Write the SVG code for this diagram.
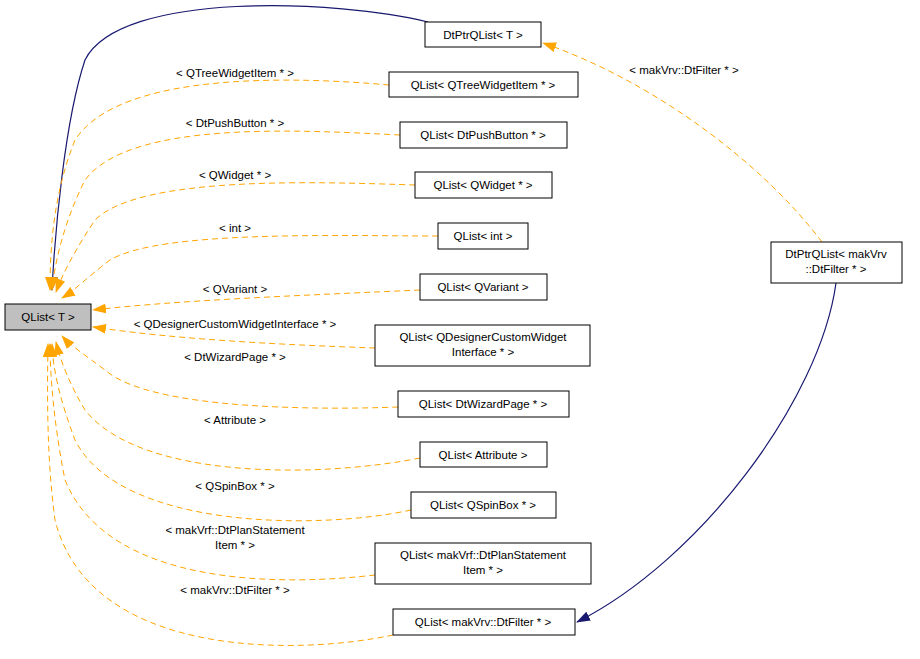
<svg xmlns="http://www.w3.org/2000/svg" width="920" height="659" viewBox="0 0 920 659">
<style>
text{font-family:"Liberation Sans",Arial,sans-serif;font-size:11.5px;fill:#000;text-anchor:middle}
.n rect{fill:#fff;stroke:#000;stroke-width:1}
.t{fill:none;stroke:#FFA500;stroke-width:1;stroke-dasharray:6,4}
.b{fill:none;stroke:#191970;stroke-width:1.2}
</style>
<defs>
<marker id="ao" markerWidth="14" markerHeight="10" refX="13" refY="5" orient="auto" markerUnits="userSpaceOnUse"><path d="M0,0L14,5L0,10z" fill="#FFA500"/></marker>
<marker id="ab" markerWidth="14" markerHeight="10" refX="13" refY="5" orient="auto" markerUnits="userSpaceOnUse"><path d="M0,0L14,5L0,10z" fill="#191970"/></marker>
</defs>
<rect width="920" height="659" fill="#fff"/>
<g id="edges">
<path class="b" d="M428,22C340,0 120,-10 85,60C65,120 55,230 52,290" marker-end="url(#ab)"/>
<path class="t" d="M389,85C300,77 120,70 75,140C55,190 50,240 50,290" marker-end="url(#ao)"/>
<path class="t" d="M400,135C300,130 130,120 85,180C65,220 55,260 52,290" marker-end="url(#ao)"/>
<path class="t" d="M415,185C320,182 140,175 95,220C75,250 62,275 56,292" marker-end="url(#ao)"/>
<path class="t" d="M438,236C340,236 160,230 110,260C90,275 75,290 62,298" marker-end="url(#ao)"/>
<path class="t" d="M420,290C310,295 180,300 93,310" marker-end="url(#ao)"/>
<path class="t" d="M375,348C290,345 180,340 93,327" marker-end="url(#ao)"/>
<path class="t" d="M398,407C320,410 150,410 105,370C85,355 70,345 62,336" marker-end="url(#ao)"/>
<path class="t" d="M420,458C320,478 140,480 85,410C70,385 60,360 56,342" marker-end="url(#ao)"/>
<path class="t" d="M411,510C320,530 120,530 75,440C60,400 53,370 52,344" marker-end="url(#ao)"/>
<path class="t" d="M375,575C290,585 110,590 65,480C55,430 50,380 50,344" marker-end="url(#ao)"/>
<path class="t" d="M393,635C300,655 90,660 55,520C47,460 47,400 48,344" marker-end="url(#ao)"/>
<path class="t" d="M822,242C760,160 650,80 543,43" marker-end="url(#ao)"/>
<path class="b" d="M836,283C820,400 700,560 577,622" marker-end="url(#ab)"/>
</g>
<g id="labels">
<text x="235" y="77">&lt; QTreeWidgetItem * &gt;</text>
<text x="235" y="127">&lt; DtPushButton * &gt;</text>
<text x="235" y="179">&lt; QWidget * &gt;</text>
<text x="235" y="232">&lt; int &gt;</text>
<text x="235" y="293">&lt; QVariant &gt;</text>
<text x="235" y="328">&lt; QDesignerCustomWidgetInterface * &gt;</text>
<text x="235" y="361">&lt; DtWizardPage * &gt;</text>
<text x="235" y="424">&lt; Attribute &gt;</text>
<text x="235" y="490">&lt; QSpinBox * &gt;</text>
<text x="235" y="534">&lt; makVrf::DtPlanStatement</text>
<text x="235" y="549">Item * &gt;</text>
<text x="235" y="594">&lt; makVrv::DtFilter * &gt;</text>
<text x="684" y="74">&lt; makVrv::DtFilter * &gt;</text>
</g>
<g id="n0" class="n"><rect x="5" y="304" width="86" height="26" style="fill:#bfbfbf"/><text x="48" y="321">QList&lt; T &gt;</text></g>
<g id="n1" class="n"><rect x="425" y="22" width="116" height="25"/><text x="483" y="39">DtPtrQList&lt; T &gt;</text></g>
<g id="n2" class="n"><rect x="389" y="72" width="189" height="25"/><text x="483" y="89">QList&lt; QTreeWidgetItem * &gt;</text></g>
<g id="n3" class="n"><rect x="400" y="122" width="167" height="26"/><text x="483" y="139">QList&lt; DtPushButton * &gt;</text></g>
<g id="n4" class="n"><rect x="415" y="172" width="137" height="26"/><text x="483" y="189">QList&lt; QWidget * &gt;</text></g>
<g id="n5" class="n"><rect x="438" y="223" width="90" height="26"/><text x="483" y="240">QList&lt; int &gt;</text></g>
<g id="n6" class="n"><rect x="420" y="274" width="127" height="26"/><text x="483" y="291">QList&lt; QVariant &gt;</text></g>
<g id="n7" class="n"><rect x="375" y="325" width="215" height="41"/><text x="483" y="341">QList&lt; QDesignerCustomWidget</text><text x="483" y="356">Interface * &gt;</text></g>
<g id="n8" class="n"><rect x="398" y="391" width="171" height="26"/><text x="483" y="408">QList&lt; DtWizardPage * &gt;</text></g>
<g id="n9" class="n"><rect x="420" y="442" width="127" height="25"/><text x="483" y="459">QList&lt; Attribute &gt;</text></g>
<g id="n10" class="n"><rect x="411" y="492" width="145" height="26"/><text x="483" y="509">QList&lt; QSpinBox * &gt;</text></g>
<g id="n11" class="n"><rect x="375" y="543" width="216" height="41"/><text x="483" y="559">QList&lt; makVrf::DtPlanStatement</text><text x="483" y="574">Item * &gt;</text></g>
<g id="n12" class="n"><rect x="393" y="609" width="182" height="26"/><text x="483" y="626">QList&lt; makVrv::DtFilter * &gt;</text></g>
<g id="n13" class="n"><rect x="771" y="242" width="131" height="41"/><text x="836" y="258">DtPtrQList&lt; makVrv</text><text x="836" y="273">::DtFilter * &gt;</text></g>
</svg>
